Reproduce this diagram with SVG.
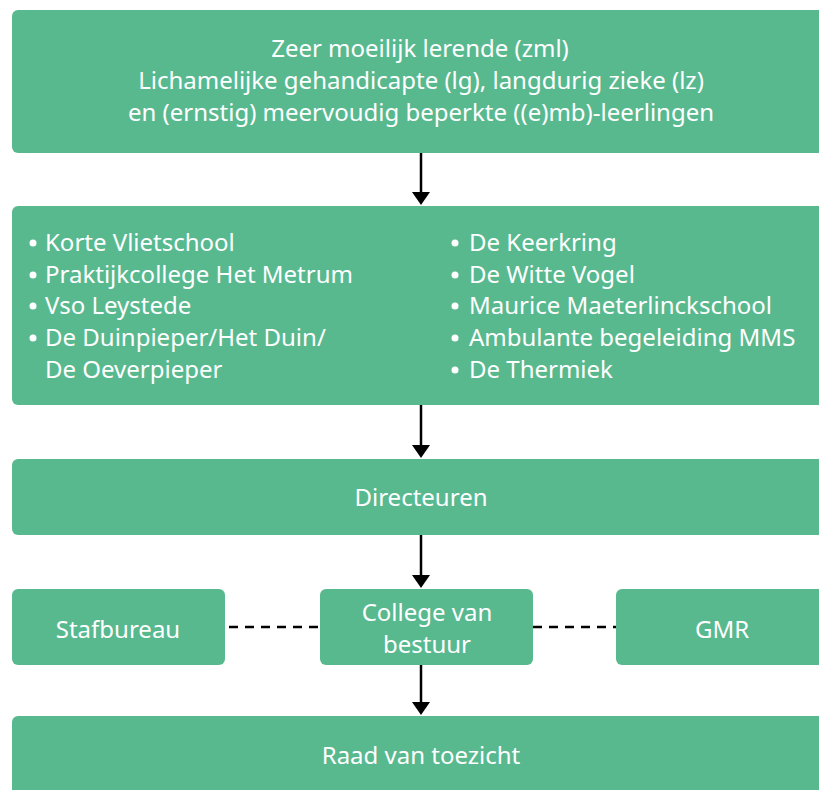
<svg xmlns="http://www.w3.org/2000/svg" width="819" height="790" viewBox="0 0 819 790">
<style>
.box{fill:#58b98f}
.t{font-family:"Noto Sans","Liberation Sans",sans-serif;font-size:24px;fill:#fff}
.c{text-anchor:middle}
.b{fill:#fff}
.arr{stroke:#000;stroke-width:2.5;fill:none}
.dash{stroke:#000;stroke-width:2.5;stroke-dasharray:9,7;fill:none}
</style>
<rect width="819" height="790" fill="#fff"/>
<g id="connectors">
<line class="arr" x1="421" y1="153" x2="421" y2="196"/>
<path d="M412,192 L430,192 L421,205 z" fill="#000"/>
<line class="arr" x1="421" y1="405" x2="421" y2="449"/>
<path d="M412,445 L430,445 L421,458 z" fill="#000"/>
<line class="arr" x1="421" y1="535" x2="421" y2="579"/>
<path d="M412,575 L430,575 L421,588 z" fill="#000"/>
<line class="arr" x1="421" y1="665" x2="421" y2="706"/>
<path d="M412,702 L430,702 L421,715 z" fill="#000"/>
<line class="dash" x1="229" y1="627" x2="320" y2="627"/>
<line class="dash" x1="533" y1="627" x2="616" y2="627"/>
</g>
<g id="doelgroep">
<rect class="box" x="12" y="10" width="820" height="143" rx="6"/>
<text class="t c" x="420" y="57">Zeer moeilijk lerende (zml)</text>
<text class="t c" x="421" y="89">Lichamelijke gehandicapte (lg), langdurig zieke (lz)</text>
<text class="t c" x="421" y="121">en (ernstig) meervoudig beperkte ((e)mb)-leerlingen</text>
</g>
<g id="scholen">
<rect class="box" x="12" y="206" width="820" height="199" rx="6"/>
<g class="b">
<circle cx="33" cy="243" r="3.5"/><circle cx="33" cy="275" r="3.5"/><circle cx="33" cy="306" r="3.5"/><circle cx="33" cy="338" r="3.5"/>
<circle cx="455" cy="243" r="3.5"/><circle cx="455" cy="275" r="3.5"/><circle cx="455" cy="306" r="3.5"/><circle cx="455" cy="338" r="3.5"/><circle cx="455" cy="370" r="3.5"/>
</g>
<g class="t">
<text x="45" y="251">Korte Vlietschool</text>
<text x="45" y="283">Praktijkcollege Het Metrum</text>
<text x="45" y="314">Vso Leystede</text>
<text x="45" y="346">De Duinpieper/Het Duin/</text>
<text x="45" y="378">De Oeverpieper</text>
<text x="469" y="251">De Keerkring</text>
<text x="469" y="283">De Witte Vogel</text>
<text x="469" y="314">Maurice Maeterlinckschool</text>
<text x="469" y="346">Ambulante begeleiding MMS</text>
<text x="469" y="378">De Thermiek</text>
</g>
</g>
<g id="directeuren">
<rect class="box" x="12" y="459" width="820" height="76" rx="6"/>
<text class="t c" x="421" y="506">Directeuren</text>
</g>
<g id="stafbureau">
<rect class="box" x="12" y="589" width="213" height="76" rx="6"/>
<text class="t c" x="118" y="638">Stafbureau</text>
</g>
<g id="cvb">
<rect class="box" x="320" y="589" width="213" height="76" rx="6"/>
<text class="t c" x="427" y="621">College van</text>
<text class="t c" x="427" y="653">bestuur</text>
</g>
<g id="gmr">
<rect class="box" x="616" y="589" width="220" height="76" rx="6"/>
<text class="t c" x="722" y="638">GMR</text>
</g>
<g id="rvt">
<rect class="box" x="12" y="716" width="820" height="90" rx="6"/>
<text class="t c" x="421" y="764">Raad van toezicht</text>
</g>
</svg>
